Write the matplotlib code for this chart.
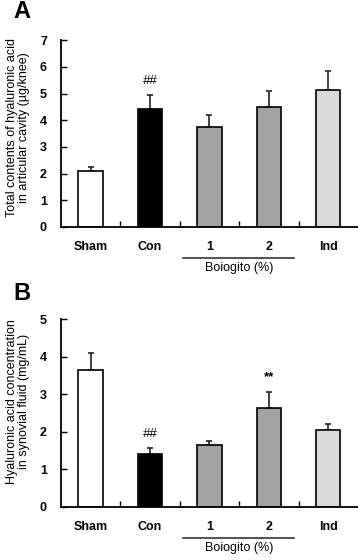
import matplotlib
matplotlib.use("Agg")
import matplotlib.pyplot as plt

plt.rcParams['font.family'] = ['Liberation Sans', 'DejaVu Sans']

groups = ["Sham", "Con", "1", "2", "Ind"]
colors = ["white", "black", "#a3a3a3", "#a3a3a3", "#d9d9d9"]

# panel A: total contents of hyaluronic acid (ug/knee)
a_vals = [2.09, 4.44, 3.75, 4.49, 5.13]
a_errs = [0.16, 0.49, 0.44, 0.61, 0.71]

# panel B: hyaluronic acid concentration (mg/mL)
b_vals = [3.65, 1.41, 1.65, 2.64, 2.06]
b_errs = [0.46, 0.15, 0.10, 0.43, 0.16]

fig = plt.figure(figsize=(3.58, 5.60), dpi=100)
axA = fig.add_axes([0.170, 0.595, 0.83, 0.333])
axB = fig.add_axes([0.170, 0.095, 0.83, 0.335])


def panel(ax, vals, errs, ymax, ylabel, letter, ly, label_y, marks):
    x = range(len(groups))
    ax.bar(x, vals, width=0.41, color=colors, edgecolor="black", linewidth=1.2, zorder=2)
    ax.errorbar(x, vals, yerr=[[0] * len(vals), errs], fmt="none", ecolor="#222222",
                elinewidth=1.2, capsize=2.5, capthick=1.2, zorder=1)
    ax.set_xlim(-0.5, 4.5)
    ax.set_ylim(0, ymax)
    ax.set_yticks(range(ymax + 1))
    ax.set_xticks(range(len(groups)))
    ax.set_xticklabels(groups, fontsize=9, fontweight="bold")
    ax.tick_params(axis="x", length=0, pad=10)
    ax.set_xticks([0.5, 1.5, 2.5, 3.5], minor=True)
    ax.tick_params(axis="x", which="minor", direction="in", length=4, width=1)
    ax.tick_params(axis="y", direction="in", length=4, width=1, labelsize=9, pad=10)
    for lab in ax.get_yticklabels():
        lab.set_fontweight("bold")
    for s in ["top", "right"]:
        ax.spines[s].set_visible(False)
    for s in ["left", "bottom"]:
        ax.spines[s].set_linewidth(1.3)
    ax.set_ylabel(ylabel, fontsize=9, linespacing=1.05)
    ax.yaxis.set_label_coords(-0.103, label_y)
    fig.text(22 / 358, 1 - ly / 560, letter, fontsize=17,
             fontweight="bold", ha="center", va="center")
    for i, txt in marks:
        ax.text(i, vals[i] + errs[i] + ymax * 0.075, txt, ha="center", va="center",
                fontsize=9.5, fontweight="bold" if txt == "**" else "normal")
    # group line under Boiogito doses
    ax.plot([1.56, 3.42], [-0.165, -0.165], transform=ax.get_xaxis_transform(),
            color="#333333", lw=1.2, clip_on=False)
    ax.text(2.5, -0.22, "Boiogito (%)", transform=ax.get_xaxis_transform(),
            ha="center", va="center", fontsize=9)


panel(axA, a_vals, a_errs, 7,
      "Total contents of hyaluronic acid\nin articular cavity (\u00b5g/knee)", "A", 12, 0.53,
      [(1, "##")])
panel(axB, b_vals, b_errs, 5,
      "Hyaluronic acid concentration\nin synovial fluid (mg/mL)", "B", 293, 0.56,
      [(1, "##"), (3, "**")])

fig.savefig("out.png", dpi=100)
